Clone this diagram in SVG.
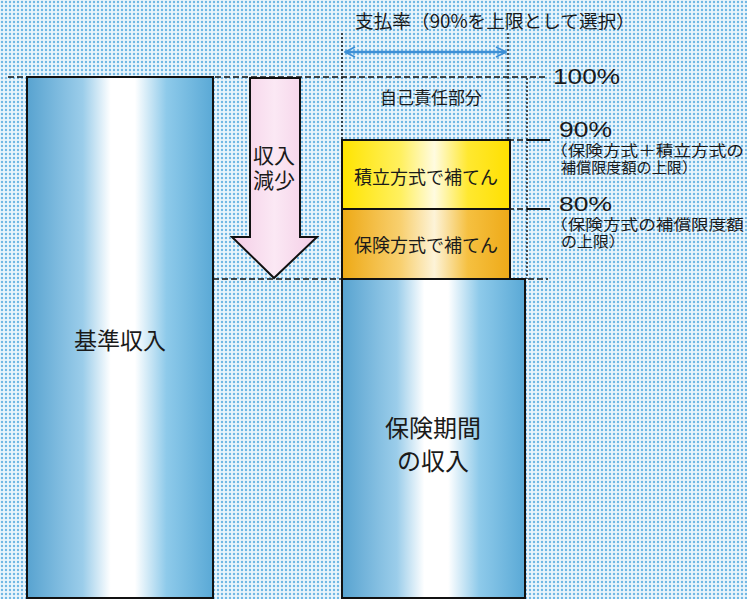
<svg xmlns="http://www.w3.org/2000/svg" width="747" height="599" viewBox="0 0 747 599">
<style>
.t{font-family:"Noto Sans CJK JP","Noto Sans",sans-serif;fill:#1a1a1a}
.r{font-family:"Liberation Sans","Noto Sans CJK JP",sans-serif;fill:#1a1a1a}
.dash{stroke:#111;stroke-width:1.6;stroke-dasharray:6 3;fill:none}
.dot{stroke:#111;stroke-width:1.4;stroke-dasharray:2 2;fill:none}
.edge{stroke:#111;stroke-width:2}
</style>
<defs>
<pattern id="bg" width="4" height="4" patternUnits="userSpaceOnUse">
<rect width="4" height="4" fill="#eaf5fc"/>
<circle cx="2" cy="2" r="1.2" fill="#6fb7e4"/>
</pattern>
<linearGradient id="blue" x1="0" y1="0" x2="1" y2="0">
<stop offset="0" stop-color="#58a3d0"/>
<stop offset="0.3" stop-color="#9bcdea"/>
<stop offset="0.45" stop-color="#ffffff"/>
<stop offset="0.58" stop-color="#ffffff"/>
<stop offset="0.75" stop-color="#8ecaea"/>
<stop offset="1" stop-color="#5aa9d6"/>
</linearGradient>
<linearGradient id="yel" x1="0" y1="0" x2="1" y2="0">
<stop offset="0" stop-color="#ffe400"/>
<stop offset="0.35" stop-color="#fff060"/>
<stop offset="0.55" stop-color="#fffbe0"/>
<stop offset="0.75" stop-color="#ffe830"/>
<stop offset="1" stop-color="#ffe000"/>
</linearGradient>
<linearGradient id="org" x1="0" y1="0" x2="1" y2="0">
<stop offset="0" stop-color="#eea915"/>
<stop offset="0.35" stop-color="#f8d070"/>
<stop offset="0.55" stop-color="#fdf3d8"/>
<stop offset="0.75" stop-color="#f5c040"/>
<stop offset="1" stop-color="#eeaa18"/>
</linearGradient>
<linearGradient id="pink" x1="0" y1="0" x2="1" y2="0">
<stop offset="0" stop-color="#f4cde6"/>
<stop offset="0.5" stop-color="#fbe8f4"/>
<stop offset="1" stop-color="#f4cde6"/>
</linearGradient>
<marker id="ah" viewBox="0 0 12 12" refX="11" refY="6" markerWidth="12" markerHeight="12" markerUnits="userSpaceOnUse" orient="auto-start-reverse">
<path d="M1,1 L11,6 L1,11" fill="none" stroke="#3d8fd6" stroke-width="1.8"/>
</marker>
</defs>
<rect width="747" height="599" fill="url(#bg)"/>

<g id="connectors">
<line class="dash" x1="8" y1="77" x2="548" y2="77"/>
<line class="dash" x1="213" y1="279" x2="548" y2="279"/>
<line class="dot" x1="342" y1="33" x2="342" y2="140"/>
<line class="dot" x1="508" y1="33" x2="508" y2="140"/>
<line class="dot" x1="527" y1="78" x2="527" y2="279"/>
<line class="dash" x1="508" y1="140" x2="527" y2="140"/>
<line class="edge" x1="527" y1="140" x2="550" y2="140" stroke-width="1.6"/>
<line class="dash" x1="508" y1="209" x2="527" y2="209"/>
<line class="edge" x1="527" y1="209" x2="550" y2="209" stroke-width="1.6"/>
<line x1="345" y1="52" x2="506" y2="52" stroke="#3d8fd6" stroke-width="2.4" marker-start="url(#ah)" marker-end="url(#ah)"/>
</g>

<g id="base-income">
<rect x="27" y="77" width="186" height="521" fill="url(#blue)" class="edge"/>
<text class="t" x="120" y="349" font-size="23" text-anchor="middle">基準収入</text>
</g>

<g id="decrease-arrow">
<path d="M250,78 L300,78 L300,237 L317,237 L274,278 L232,237 L250,237 Z" fill="url(#pink)" stroke="#111" stroke-width="2" stroke-linejoin="miter"/>
<text class="r" x="274" y="163" font-size="21" text-anchor="middle">収入</text>
<text class="r" x="274" y="188" font-size="21" text-anchor="middle">減少</text>
</g>

<g id="period-income">
<rect x="342" y="279" width="183" height="319" fill="url(#blue)" class="edge"/>
<text class="t" x="433" y="437" font-size="24" text-anchor="middle">保険期間</text>
<text class="t" x="433" y="470" font-size="24" text-anchor="middle">の収入</text>
</g>

<g id="reserve">
<rect x="342" y="140" width="168" height="69" fill="url(#yel)" class="edge"/>
<text class="t" x="426" y="184" font-size="18" text-anchor="middle">積立方式で補てん</text>
</g>

<g id="insurance">
<rect x="342" y="209" width="168" height="70" fill="url(#org)" class="edge"/>
<text class="t" x="426" y="252" font-size="18" text-anchor="middle">保険方式で補てん</text>
</g>

<g id="labels">
<text class="t" x="355" y="28" font-size="18" textLength="280" lengthAdjust="spacingAndGlyphs">支払率（90%を上限として選択）</text>
<text class="t" x="431" y="104" font-size="17" text-anchor="middle">自己責任部分</text>
<text class="r" x="553" y="84" font-size="22" textLength="67" lengthAdjust="spacingAndGlyphs">100%</text>
<text class="r" x="559" y="137" font-size="22" textLength="53" lengthAdjust="spacingAndGlyphs">90%</text>
<text class="r" x="550" y="156" font-size="15" textLength="194" lengthAdjust="spacingAndGlyphs">（保険方式＋積立方式の</text>
<text class="r" x="561" y="173" font-size="15" textLength="136" lengthAdjust="spacingAndGlyphs">補償限度額の上限）</text>
<text class="r" x="559" y="211" font-size="21" textLength="53" lengthAdjust="spacingAndGlyphs">80%</text>
<text class="r" x="550" y="230" font-size="15" textLength="194" lengthAdjust="spacingAndGlyphs">（保険方式の補償限度額</text>
<text class="r" x="561" y="247" font-size="15" textLength="64" lengthAdjust="spacingAndGlyphs">の上限）</text>
</g>
</svg>
